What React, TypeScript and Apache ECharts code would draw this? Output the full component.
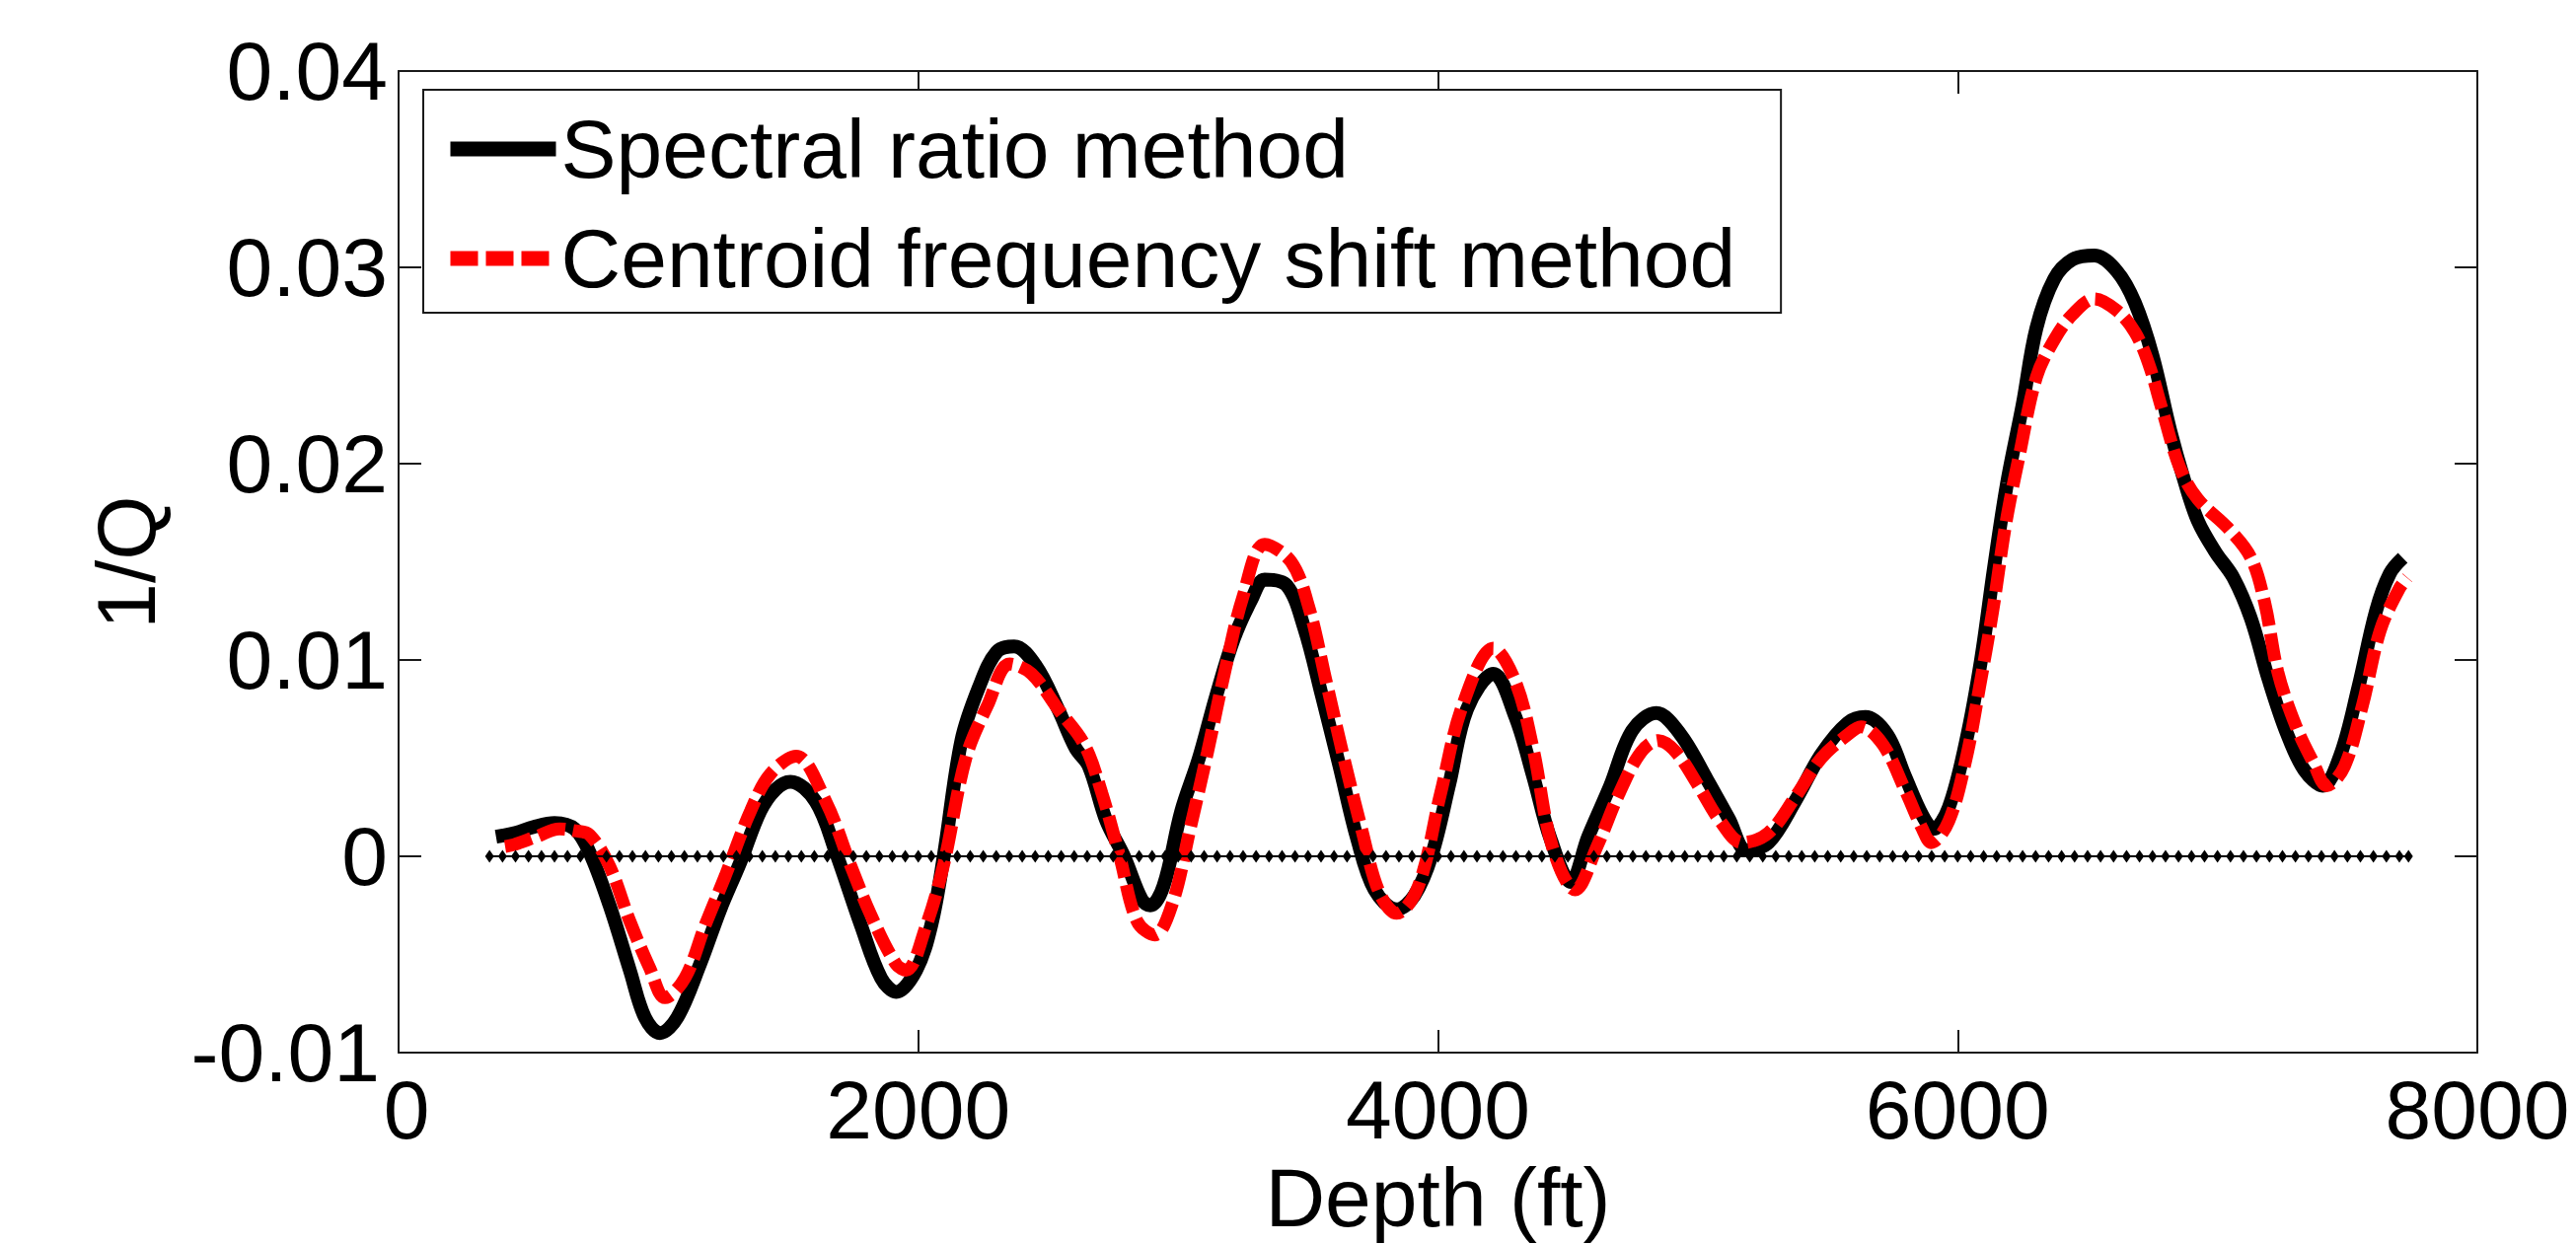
import React, { useEffect, useRef } from "react";
import * as echarts from "echarts";

// ---- Data ----
// Spectral ratio method (black, solid)
const depthSpectral = [
  375, 450, 520, 600, 677, 735, 812, 890, 948, 1006, 1073, 1160, 1238, 1315, 1392, 1450, 1508, 1605, 1683, 1779,
  1857, 1915, 1992, 2050, 2098, 2166, 2233, 2301, 2369, 2453, 2538, 2606, 2656, 2724, 2792, 2860, 2893, 2944, 3012,
  3080, 3147, 3215, 3283, 3333, 3418, 3486, 3553, 3621, 3689, 3756, 3841, 3909, 3977, 4044, 4112, 4213, 4298, 4366,
  4433, 4511, 4578, 4663, 4747, 4840, 4934, 5036, 5120, 5188, 5272, 5374, 5475, 5577, 5645, 5729, 5797, 5864, 5907,
  5966, 6033, 6090, 6140, 6190, 6250, 6303, 6371, 6442, 6526, 6613, 6682, 6750, 6818, 6871, 6924, 6992, 7061, 7129,
  7197, 7266, 7334, 7405, 7474, 7542, 7610, 7663, 7713,
];
const qSpectral = [
  0.001, 0.0012, 0.0015, 0.0017, 0.0014, 0.0002, -0.0025, -0.0058, -0.0082, -0.009, -0.0082, -0.0055, -0.0027,
  -0.0003, 0.0023, 0.0034, 0.0038, 0.0028, 0.0002, -0.0035, -0.0062, -0.0069, -0.0058, -0.0035, 0.0, 0.0059, 0.0086,
  0.0104, 0.0107, 0.0097, 0.0075, 0.0055, 0.0046, 0.0018, 0.0, -0.0022, -0.0025, -0.0015, 0.0023, 0.005, 0.0082,
  0.0111, 0.0131, 0.0141, 0.0138, 0.0116, 0.0082, 0.0046, 0.0009, -0.0017, -0.0027, -0.002, 0.0001, 0.0037, 0.0075,
  0.0093, 0.0071, 0.0041, 0.0009, -0.0013, 0.001, 0.0036, 0.0064, 0.0073, 0.0062, 0.0039, 0.0019, 0.0003, 0.0007,
  0.0028, 0.0052, 0.0068, 0.0071, 0.0062, 0.0041, 0.0021, 0.0014, 0.0025, 0.0059, 0.01, 0.0147, 0.019, 0.023, 0.0269,
  0.0294, 0.0304, 0.0306, 0.0298, 0.0282, 0.0255, 0.0217, 0.0192, 0.0171, 0.0155, 0.0142, 0.0121, 0.009, 0.0063,
  0.0044, 0.0036, 0.0052, 0.0086, 0.0125, 0.0144, 0.0152,
];

// Centroid frequency shift method (red, dashed)
const depthCentroid = [
  410, 445, 530, 619, 680, 735, 812, 890, 967, 1025, 1102, 1180, 1257, 1354, 1431, 1530, 1644, 1741, 1818, 1915, 1953,
  2031, 2098, 2183, 2267, 2352, 2436, 2538, 2639, 2707, 2775, 2842, 2910, 2978, 3046, 3113, 3181, 3249, 3333, 3435,
  3503, 3570, 3638, 3706, 3773, 3841, 3925, 4010, 4095, 4213, 4298, 4366, 4440, 4528, 4612, 4697, 4781, 4849, 4917,
  5002, 5086, 5171, 5272, 5374, 5475, 5577, 5628, 5712, 5797, 5864, 5898, 5966, 6033, 6084, 6135, 6186, 6237, 6303,
  6371, 6442, 6526, 6613, 6682, 6735, 6786, 6855, 6924, 7042, 7129, 7182, 7232, 7300, 7368, 7421, 7489, 7558, 7626,
  7698, 7731,
];
const qCentroid = [
  0.0005, 0.0006, 0.001, 0.0014, 0.0013, 0.0011, -0.0005, -0.0033, -0.0057, -0.0072, -0.0062, -0.0035, -0.001,
  0.0023, 0.0042, 0.0051, 0.0028, -0.0005, -0.003, -0.0055, -0.0058, -0.0035, -0.0004, 0.005, 0.0077, 0.0098, 0.0093,
  0.0075, 0.0057, 0.0032, 0.0, -0.0033, -0.004, -0.0024, 0.0014, 0.0053, 0.0095, 0.0132, 0.0159, 0.015, 0.0127,
  0.0089, 0.005, 0.0014, -0.0018, -0.0029, -0.0015, 0.0032, 0.0077, 0.0106, 0.0089, 0.0055, 0.0005, -0.0017, 0.0005,
  0.0032, 0.0053, 0.0059, 0.0053, 0.0036, 0.0018, 0.0007, 0.0012, 0.003, 0.005, 0.0062, 0.0066, 0.0057, 0.0034,
  0.0014, 0.0007, 0.0018, 0.005, 0.0086, 0.0125, 0.017, 0.0204, 0.0244, 0.0263, 0.0276, 0.0284, 0.0278, 0.0267,
  0.0251, 0.0228, 0.0198, 0.0182, 0.0167, 0.0152, 0.0129, 0.0094, 0.0067, 0.0048, 0.0036, 0.0046, 0.0077, 0.0115,
  0.0136, 0.0142,
];

// Zero reference line (black diamonds), sample depths
const depthZero = [
  350, 400, 450, 500, 550, 600, 650, 700, 750, 800, 850, 900, 950, 1000, 1050, 1100, 1150, 1200, 1250, 1300, 1350,
  1400, 1450, 1500, 1550, 1600, 1650, 1700, 1750, 1800, 1850, 1900, 1950, 2000, 2050, 2100, 2150, 2200, 2250, 2300,
  2350, 2400, 2450, 2500, 2550, 2600, 2650, 2700, 2750, 2800, 2850, 2900, 2950, 3000, 3050, 3100, 3150, 3200, 3250,
  3300, 3350, 3400, 3450, 3500, 3550, 3600, 3650, 3700, 3750, 3800, 3850, 3900, 3950, 4000, 4050, 4100, 4150, 4200,
  4250, 4300, 4350, 4400, 4450, 4500, 4550, 4600, 4650, 4700, 4750, 4800, 4850, 4900, 4950, 5000, 5050, 5100, 5150,
  5200, 5250, 5300, 5350, 5400, 5450, 5500, 5550, 5600, 5650, 5700, 5750, 5800, 5850, 5900, 5950, 6000, 6050, 6100,
  6150, 6200, 6250, 6300, 6350, 6400, 6450, 6500, 6550, 6600, 6650, 6700, 6750, 6800, 6850, 6900, 6950, 7000, 7050,
  7100, 7150, 7200, 7250, 7300, 7350, 7400, 7450, 7500, 7550, 7600, 7650, 7700, 7735,
];
const qZero = 0;

const xTicks = { min: 0, max: 8000, interval: 2000 };
const yTicks = { min: -0.01, max: 0.04, interval: 0.01 };

const seriesNames = ["Spectral ratio method", "Centroid frequency shift method"];
const xLabel = "Depth (ft)";
const yLabel = "1/Q";

const FONT = '"Liberation Sans", Arial, Helvetica, sans-serif';

export default function App() {
  const ref = useRef<HTMLDivElement>(null);

  useEffect(() => {
    if (!ref.current) return;
    const chart = echarts.init(ref.current, null, { renderer: "svg", width: 2611, height: 1261 });

    const axisLine = { show: true, onZero: false, lineStyle: { color: "#1a1a1a", width: 2 } };
    const axisTick = { show: true, inside: true, length: 23, lineStyle: { color: "#1a1a1a", width: 2 } };
    const labelStyle = { color: "#000", fontSize: 84, fontFamily: FONT };

    const option: any = {
      animation: false,
      backgroundColor: "#fff",
      grid: { left: 404, top: 72, width: 2107, height: 997, containLabel: false },
      legend: {
        data: seriesNames,
        orient: "vertical",
        left: 429,
        top: 91,
        padding: [18, 46, 13, 20],
        itemGap: 27,
        itemWidth: 107,
        itemHeight: 16,
        borderColor: "#1a1a1a",
        borderWidth: 2,
        backgroundColor: "#fff",
        textStyle: { color: "#000", fontSize: 84, fontFamily: FONT, lineHeight: 84 },
        lineStyle: { width: 15 },
        selectedMode: false,
      },
      xAxis: [
        {
          type: "value",
          position: "bottom",
          ...xTicks,
          axisLine,
          axisTick,
          splitLine: { show: false },
          axisLabel: {
            ...labelStyle,
            lineHeight: 56,
            margin: 30,
            formatter: (v: number) => (v === xTicks.min ? "{first|" + String(v) + "}" : String(v)),
            rich: { first: { ...labelStyle, lineHeight: 56, padding: [0, 0, 0, 16] } },
          },
          name: xLabel,
          nameLocation: "middle",
          nameGap: 146,
          nameTextStyle: { ...labelStyle, verticalAlign: "middle" },
        },
        {
          type: "value",
          position: "top",
          ...xTicks,
          axisLine,
          axisTick,
          splitLine: { show: false },
          axisLabel: { show: false },
        },
      ],
      yAxis: [
        {
          type: "value",
          position: "left",
          ...yTicks,
          axisLine,
          axisTick,
          splitLine: { show: false },
          axisLabel: {
            ...labelStyle,
            lineHeight: 56,
            margin: 11,
            formatter: (v: number) => {
              const s = Math.abs(v) < 1e-9 ? "0" : v.toFixed(2);
              return Math.abs(v - yTicks.min) < 1e-9 ? "{first|" + s + "}" : s;
            },
            rich: { first: { ...labelStyle, lineHeight: 56, padding: [0, 8, 0, 0] } },
          },
        },
        {
          type: "value",
          position: "right",
          ...yTicks,
          axisLine,
          axisTick,
          splitLine: { show: false },
          axisLabel: { show: false },
        },
      ],
      graphic: [
        {
          type: "text",
          x: 128,
          y: 570,
          rotation: Math.PI / 2,
          style: {
            text: yLabel,
            fontSize: 84,
            fontFamily: FONT,
            fill: "#000",
            align: "center",
            verticalAlign: "middle",
          },
        },
      ],
      series: [
        {
          name: seriesNames[0],
          type: "line",
          xAxisIndex: 0,
          yAxisIndex: 0,
          data: depthSpectral.map((d, i) => [d, qSpectral[i]]),
          showSymbol: false,
          symbol: "none",
          smooth: 0.35,
          lineStyle: { color: "#000", width: 14, type: "solid" },
          itemStyle: { color: "#000" },
          z: 2,
        },
        {
          name: seriesNames[1],
          type: "line",
          xAxisIndex: 0,
          yAxisIndex: 0,
          data: depthCentroid.map((d, i) => [d, qCentroid[i]]),
          showSymbol: false,
          symbol: "none",
          smooth: 0.35,
          lineStyle: { color: "#ff0000", width: 13, type: [28, 8] },
          itemStyle: { color: "#ff0000" },
          z: 3,
        },
        {
          name: "zero",
          type: "line",
          xAxisIndex: 0,
          yAxisIndex: 0,
          data: depthZero.map((d) => [d, qZero]),
          symbol: "diamond",
          symbolSize: [9, 13],
          showSymbol: true,
          showAllSymbol: true,
          lineStyle: { color: "#000", width: 2 },
          itemStyle: { color: "#000" },
          z: 4,
        },
      ],
    };

    chart.setOption(option);
    return () => chart.dispose();
  }, []);

  return (
    <div
      ref={ref}
      style={{ position: "fixed", left: 0, top: 0, width: 2611, height: 1261, background: "#fff" }}
    />
  );
}
